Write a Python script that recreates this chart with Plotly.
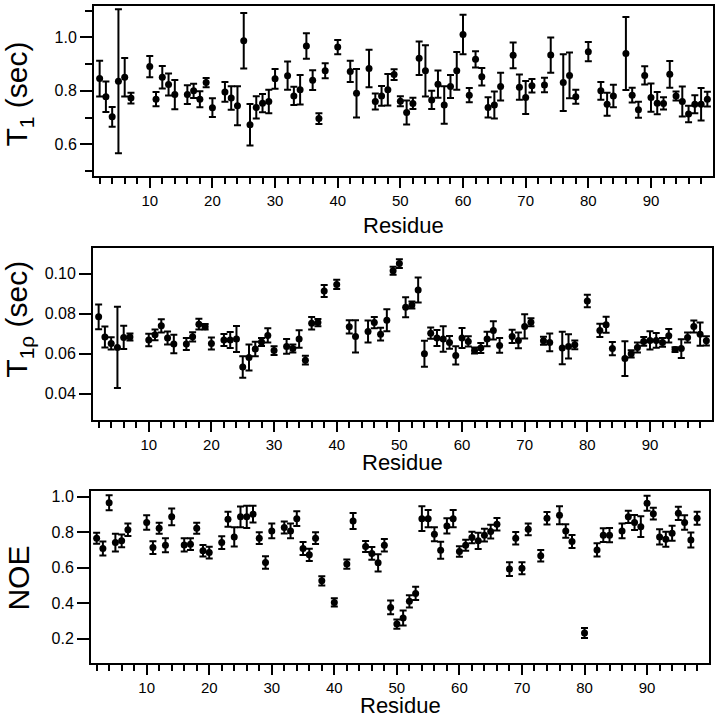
import plotly.graph_objects as go

residues = [2,3,4,5,6,7,10,11,12,13,14,16,17,18,19,20,22,23,24,25,26,27,28,29,30,
            32,33,34,35,36,37,38,40,42,43,45,46,47,48,49,50,51,52,53,54,55,56,57,58,
            59,60,61,62,63,64,65,66,68,69,70,71,73,74,76,77,78,80,82,83,84,86,87,88,
            89,90,91,92,93,94,95,96,97,98,99]

t1 = [0.846,0.778,0.703,0.836,0.851,0.773,0.891,0.769,0.851,0.824,0.786,0.786,0.800,
      0.769,0.831,0.737,0.796,0.773,0.744,0.988,0.673,0.738,0.754,0.760,0.845,0.857,
      0.781,0.804,0.968,0.840,0.696,0.875,0.964,0.873,0.791,0.884,0.760,0.781,0.804,
      0.861,0.761,0.719,0.753,0.922,0.875,0.766,0.825,0.747,0.816,0.875,1.011,0.784,
      0.918,0.853,0.738,0.747,0.816,0.933,0.814,0.775,0.819,0.822,0.934,0.831,0.858,
      0.778,0.947,0.800,0.750,0.781,0.940,0.784,0.729,0.858,0.775,0.754,0.753,0.862,
      0.781,0.760,0.713,0.750,0.750,0.769]
t1_err = [0.067,0.057,0.037,0.270,0.072,0.020,0.040,0.027,0.042,0.041,0.055,0.035,0.027,
          0.030,0.017,0.035,0.037,0.044,0.073,0.104,0.078,0.042,0.034,0.044,0.037,0.053,
          0.034,0.055,0.048,0.037,0.020,0.028,0.027,0.040,0.091,0.070,0.030,0.037,0.059,
          0.020,0.019,0.045,0.021,0.063,0.096,0.034,0.051,0.070,0.043,0.071,0.074,0.027,
          0.030,0.033,0.038,0.051,0.052,0.048,0.047,0.062,0.025,0.027,0.066,0.106,0.086,
          0.026,0.036,0.033,0.043,0.042,0.137,0.028,0.030,0.034,0.053,0.042,0.023,0.050,
          0.017,0.056,0.031,0.034,0.061,0.028]

t1rho = [0.0785,0.0684,0.0652,0.0632,0.0682,0.0684,0.0669,0.0695,0.0740,0.0679,0.0649,
         0.0649,0.0685,0.0748,0.0735,0.0652,0.0669,0.0669,0.0674,0.0534,0.0582,0.0624,
         0.0659,0.0692,0.0616,0.0637,0.0626,0.0674,0.0568,0.0753,0.0756,0.0914,0.0947,
         0.0735,0.0687,0.0711,0.0756,0.0698,0.0768,0.1015,0.1051,0.0833,0.0844,0.0919,
         0.0600,0.0703,0.0679,0.0674,0.0657,0.0592,0.0679,0.0662,0.0616,0.0629,0.0674,
         0.0717,0.0642,0.0687,0.0667,0.0737,0.0758,0.0665,0.0657,0.0629,0.0637,0.0645,
         0.0864,0.0717,0.0745,0.0626,0.0576,0.0600,0.0632,0.0662,0.0667,0.0667,0.0657,
         0.0690,0.0621,0.0626,0.0682,0.0737,0.0698,0.0665]
t1rho_err = [0.0062,0.0053,0.0031,0.0203,0.0058,0.0017,0.0031,0.0027,0.0033,0.0033,0.0046,
             0.0030,0.0023,0.0027,0.0014,0.0030,0.0030,0.0040,0.0065,0.0054,0.0065,0.0036,
             0.0020,0.0036,0.0022,0.0037,0.0020,0.0044,0.0022,0.0031,0.0018,0.0030,0.0023,
             0.0033,0.0081,0.0055,0.0028,0.0032,0.0055,0.0020,0.0022,0.0050,0.0017,0.0062,
             0.0065,0.0028,0.0040,0.0064,0.0032,0.0046,0.0050,0.0026,0.0015,0.0025,0.0036,
             0.0046,0.0037,0.0033,0.0039,0.0061,0.0020,0.0020,0.0044,0.0081,0.0061,0.0022,
             0.0031,0.0033,0.0040,0.0033,0.0087,0.0018,0.0025,0.0022,0.0046,0.0037,0.0022,
             0.0034,0.0012,0.0047,0.0025,0.0030,0.0058,0.0023]

noe = [0.766,0.708,0.966,0.741,0.751,0.813,0.854,0.713,0.822,0.726,0.886,0.728,0.732,
       0.822,0.695,0.685,0.741,0.873,0.773,0.886,0.886,0.901,0.766,0.629,0.807,0.826,
       0.807,0.876,0.708,0.672,0.766,0.526,0.404,0.620,0.863,0.719,0.680,0.627,0.726,
       0.376,0.282,0.316,0.410,0.455,0.876,0.876,0.788,0.698,0.835,0.876,0.691,0.726,
       0.770,0.751,0.783,0.803,0.844,0.592,0.766,0.597,0.816,0.667,0.878,0.895,0.807,
       0.747,0.232,0.700,0.783,0.783,0.807,0.886,0.854,0.831,0.963,0.904,0.773,0.760,
       0.794,0.906,0.854,0.756,0.878]
noe_err = [0.031,0.039,0.042,0.050,0.036,0.035,0.041,0.036,0.031,0.040,0.047,0.037,0.033,
           0.031,0.032,0.033,0.036,0.042,0.054,0.058,0.063,0.047,0.033,0.035,0.042,0.034,
           0.042,0.042,0.037,0.035,0.033,0.026,0.023,0.026,0.045,0.031,0.036,0.049,0.035,
           0.039,0.026,0.042,0.035,0.037,0.070,0.049,0.039,0.048,0.043,0.049,0.030,0.031,
           0.032,0.046,0.036,0.039,0.035,0.039,0.035,0.034,0.033,0.032,0.035,0.051,0.038,
           0.037,0.028,0.037,0.039,0.040,0.042,0.035,0.042,0.059,0.042,0.033,0.043,0.042,
           0.042,0.037,0.041,0.042,0.037]

x_title = "Residue"
y_titles = ["T<sub>1</sub> (sec)", "T<sub>1ρ</sub> (sec)", "NOE"]

W, H = 717, 719
FONT = "Liberation Sans, Arial, Helvetica, sans-serif"

def px_x(p):
    return p / W

def px_y(p):
    return (H - p) / H

# panel frames in pixels: (left, right, top, bottom)
frames = [(94, 713, 3, 174), (93, 712, 246, 419), (91, 709, 490, 663)]
yranges = [[0.48, 1.118], [0.0268, 0.1129], [0.0614, 1.032]]
ydticks = [0.2, 0.02, 0.2]
ytick0 = [0.0, 0.0, 0.0]
yformats = [".1f", ".2f", ".1f"]
series = [(t1, t1_err), (t1rho, t1rho_err), (noe, noe_err)]
ytitle_centers = [92, 318, 578]
# (y position in px, anchor)
xtitle_pos = [(223, "middle"), (461, "middle"), (719, "bottom")]

fig = go.Figure()
layout = dict(
    width=W, height=H,
    margin=dict(l=0, r=0, t=0, b=0),
    paper_bgcolor="white", plot_bgcolor="white",
    showlegend=False,
    font=dict(family=FONT, color="black"),
)
annotations = []
for i, ((vals, errs), (l, r, t, b)) in enumerate(zip(series, frames)):
    n = "" if i == 0 else str(i + 1)
    fig.add_trace(go.Scatter(
        x=residues, y=vals, mode="markers",
        marker=dict(color="black", size=7),
        error_y=dict(type="data", array=errs, visible=True, color="black",
                     thickness=2, width=3.5),
        xaxis="x" + n, yaxis="y" + n,
    ))
    xa = dict(
        domain=[px_x(l), px_x(r)], range=[1.1, 99.9], anchor="y" + n,
        showgrid=False, zeroline=False, showline=True, mirror=True,
        linecolor="black", linewidth=2,
        ticks="outside", ticklen=10, tickwidth=2, tickcolor="black",
        tick0=0, dtick=10, tickfont=dict(size=15, family=FONT),
        minor=dict(ticks="outside", ticklen=6, tickwidth=2, tickcolor="black",
                   dtick=2, tick0=0, showgrid=False),
    )
    ya = dict(
        domain=[px_y(b), px_y(t)], range=yranges[i], anchor="x" + n,
        showgrid=False, zeroline=False, showline=True, mirror=True,
        linecolor="black", linewidth=2,
        ticks="outside", ticklen=12, tickwidth=2, tickcolor="black",
        tick0=ytick0[i], dtick=ydticks[i], tickformat=yformats[i],
        tickfont=dict(size=16, family=FONT),
    )
    if i == 0:
        ya["minor"] = dict(ticks="outside", ticklen=7, tickwidth=2,
                           tickcolor="black", dtick=0.1, tick0=0, showgrid=False)
    layout["xaxis" + n] = xa
    layout["yaxis" + n] = ya
    annotations.append(dict(
        text=y_titles[i], xref="paper", yref="paper",
        x=px_x(19), y=px_y(ytitle_centers[i]), xanchor="center", yanchor="middle",
        textangle=-90, showarrow=False, font=dict(size=30, family=FONT)))
    ty, anch = xtitle_pos[i]
    annotations.append(dict(
        text=x_title, xref="paper", yref="paper",
        x=px_x((l + r) / 2), y=px_y(ty),
        xanchor="center", yanchor=anch, borderpad=0,
        showarrow=False, font=dict(size=22, family=FONT)))

layout["annotations"] = annotations
fig.update_layout(**layout)
fig.write_html(
    "out.html",
    config={"displayModeBar": False},
    post_script="document.body.style.margin='0';document.body.style.padding='0';"
                "document.body.style.overflow='hidden';"
                "document.documentElement.style.overflow='hidden';",
)
